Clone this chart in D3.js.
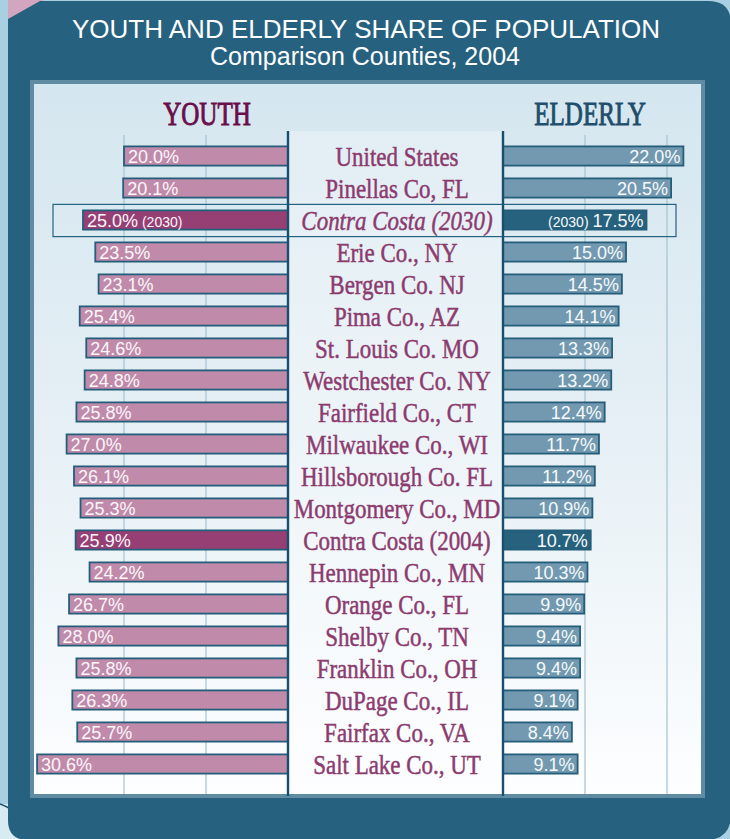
<!DOCTYPE html>
<html>
<head>
<meta charset="utf-8">
<script src="https://cdn.jsdelivr.net/npm/d3@7"></script>
<style>
  body { margin: 0; background: #a9d0e2; }
  svg { display: block; }
</style>
</head>
<body>
<div id="chart"></div>
<script>
const counties = [
    "United States", "Pinellas Co, FL", "Contra Costa (2030)", "Erie Co., NY",
    "Bergen Co. NJ", "Pima Co., AZ", "St. Louis Co. MO", "Westchester Co. NY",
    "Fairfield Co., CT", "Milwaukee Co., WI", "Hillsborough Co. FL", "Montgomery Co., MD",
    "Contra Costa (2004)", "Hennepin Co., MN", "Orange Co., FL", "Shelby Co., TN",
    "Franklin Co., OH", "DuPage Co., IL", "Fairfax Co., VA", "Salt Lake Co., UT"
];
const youth = [20.0, 20.1, 25.0, 23.5, 23.1, 25.4, 24.6, 24.8, 25.8, 27.0,
               26.1, 25.3, 25.9, 24.2, 26.7, 28.0, 25.8, 26.3, 25.7, 30.6];
const elderly = [22.0, 20.5, 17.5, 15.0, 14.5, 14.1, 13.3, 13.2, 12.4, 11.7,
                 11.2, 10.9, 10.7, 10.3, 9.9, 9.4, 9.4, 9.1, 8.4, 9.1];
const highlighted = ["Contra Costa (2030)", "Contra Costa (2004)"];
const projected = "Contra Costa (2030)";
const gridTicks = [10, 20];

const width = 730, height = 839;
const youthAxisX = 288, elderlyAxisX = 503;

const data = counties.map((c, i) => ({ county: c, youth: youth[i], elderly: elderly[i] }));

const svg = d3.select("#chart")
    .append("svg")
    .attr("width", width)
    .attr("height", height);

const defs = svg.append("defs");
const grad = defs.append("linearGradient")
    .attr("id", "panelGrad")
    .attr("x1", 0).attr("y1", 0).attr("x2", 0).attr("y2", 1);
grad.append("stop").attr("offset", "0%").attr("stop-color", "#d4e6ef");
grad.append("stop").attr("offset", "55%").attr("stop-color", "#e8f1f6");
grad.append("stop").attr("offset", "100%").attr("stop-color", "#fdfeff");

// Background decorations
svg.append("rect").attr("x", 0).attr("y", 804).attr("width", 20).attr("height", 35).attr("fill", "#d9ebf2");
svg.append("path")
    .attr("d", "M0,804 Q6,806 12,810")
    .attr("fill", "none").attr("stroke", "#1d4f6b").attr("stroke-width", 1.5);
svg.append("path").attr("d", "M8,0 L44,0 L8,20 Z").attr("fill", "#d3a6c0");

// Dark frame
svg.append("path")
    .attr("d", "M8,19 L40,1 L708,1 Q731,1 731,24 L731,814 Q731,840 706,840 L28,840 Q8,840 8,820 Z")
    .attr("fill", "#26627f");

// Title
svg.append("text")
    .attr("x", 366).attr("y", 38)
    .attr("text-anchor", "middle")
    .style("fill", "#fff")
    .style("font-family", "Liberation Sans, Arial, sans-serif")
    .style("font-size", "26px")
    .text("YOUTH AND ELDERLY SHARE OF POPULATION");
svg.append("text")
    .attr("x", 365).attr("y", 65)
    .attr("text-anchor", "middle")
    .style("fill", "#fff")
    .style("font-family", "Liberation Sans, Arial, sans-serif")
    .style("font-size", "25px")
    .text("Comparison Counties, 2004");

// Inner panel
svg.append("rect")
    .attr("x", 30).attr("y", 80).attr("width", 675).attr("height", 718)
    .attr("fill", "#5f8ca3");
svg.append("rect")
    .attr("x", 34).attr("y", 84).attr("width", 667).attr("height", 710)
    .attr("fill", "url(#panelGrad)");

// Scales
const x = d3.scaleLinear().domain([0, 10]).range([0, 82]);
const y = d3.scaleBand()
    .domain(counties)
    .range([140, 780])
    .paddingInner(0.4)
    .paddingOuter(0.2);

// Center column
svg.append("rect")
    .attr("x", youthAxisX).attr("y", 131)
    .attr("width", elderlyAxisX - youthAxisX).attr("height", 663)
    .attr("fill", "#fff").attr("opacity", 0.3);

// Gridlines
const grid = svg.append("g");
grid.selectAll(".grid-y")
    .data(gridTicks)
    .enter()
    .append("line")
    .attr("x1", d => youthAxisX - x(d)).attr("x2", d => youthAxisX - x(d))
    .attr("y1", 135).attr("y2", 794)
    .attr("stroke", "#a3c3d2").attr("stroke-width", 1.2);
grid.selectAll(".grid-e")
    .data(gridTicks)
    .enter()
    .append("line")
    .attr("x1", d => elderlyAxisX + x(d)).attr("x2", d => elderlyAxisX + x(d))
    .attr("y1", 135).attr("y2", 794)
    .attr("stroke", "#a3c3d2").attr("stroke-width", 1.2);

// Headers
svg.append("text")
    .attr("transform", "translate(207,125) scale(0.76,1)")
    .attr("text-anchor", "middle")
    .style("fill", "#6b0d4a")
    .style("stroke", "#6b0d4a")
    .style("stroke-width", 0.9)
    .style("font-family", "Liberation Serif, serif")
    .style("font-size", "33px")
    .text("YOUTH");
svg.append("text")
    .attr("transform", "translate(590,125) scale(0.76,1)")
    .attr("text-anchor", "middle")
    .style("fill", "#1f4e6c")
    .style("stroke", "#1f4e6c")
    .style("stroke-width", 0.9)
    .style("font-family", "Liberation Serif, serif")
    .style("font-size", "33px")
    .text("ELDERLY");

// Projection box
const proj = y(projected);
svg.append("rect")
    .attr("x", 53).attr("y", proj - 6)
    .attr("width", 623).attr("height", y.bandwidth() + 13)
    .attr("fill", "none")
    .attr("stroke", "#26627f").attr("stroke-width", 1.2);

const isHi = d => highlighted.includes(d.county);

// Youth bars
svg.selectAll(".youth-bar")
    .data(data)
    .enter()
    .append("rect")
    .attr("class", "youth-bar")
    .attr("x", d => youthAxisX - x(d.youth))
    .attr("y", d => y(d.county))
    .attr("width", d => x(d.youth))
    .attr("height", y.bandwidth())
    .attr("fill", d => isHi(d) ? "#963f74" : "#c08baa")
    .attr("stroke", "#245e7a")
    .attr("stroke-width", 1.8);

// Elderly bars
svg.selectAll(".elderly-bar")
    .data(data)
    .enter()
    .append("rect")
    .attr("class", "elderly-bar")
    .attr("x", elderlyAxisX)
    .attr("y", d => y(d.county))
    .attr("width", d => x(d.elderly))
    .attr("height", y.bandwidth())
    .attr("fill", d => isHi(d) ? "#26617e" : "#7299af")
    .attr("stroke", "#245e7a")
    .attr("stroke-width", 1.8);

// Youth labels
const yl = svg.selectAll(".youth-label")
    .data(data)
    .enter()
    .append("text")
    .attr("class", "youth-label")
    .attr("x", d => youthAxisX - x(d.youth) + 4)
    .attr("y", d => y(d.county) + y.bandwidth() / 2 + 6.5)
    .style("fill", "#fbf6fa")
    .style("font-family", "Liberation Sans, Arial, sans-serif")
    .style("font-size", "18px");
yl.append("tspan").text(d => d.youth.toFixed(1) + "%");
yl.filter(d => d.county === projected)
    .append("tspan").style("font-size", "14px").text(" (2030)");

// Elderly labels
const el = svg.selectAll(".elderly-label")
    .data(data)
    .enter()
    .append("text")
    .attr("class", "elderly-label")
    .attr("x", d => elderlyAxisX + x(d.elderly) - 3)
    .attr("y", d => y(d.county) + y.bandwidth() / 2 + 6.5)
    .attr("text-anchor", "end")
    .style("fill", "#f6fafc")
    .style("font-family", "Liberation Sans, Arial, sans-serif")
    .style("font-size", "18px");
el.filter(d => d.county === projected)
    .append("tspan").style("font-size", "14px").text("(2030) ");
el.append("tspan").text(d => d.elderly.toFixed(1) + "%");

// County names
svg.selectAll(".county")
    .data(data)
    .enter()
    .append("text")
    .attr("class", "county")
    .attr("transform", d => `translate(397,${y(d.county) + y.bandwidth() / 2 + 10}) scale(0.82,1)`)
    .attr("text-anchor", "middle")
    .style("fill", "#8c3b6f")
    .style("stroke", "#8c3b6f")
    .style("stroke-width", 0.5)
    .style("font-family", "Liberation Serif, serif")
    .style("font-size", "28px")
    .style("font-style", d => d.county === projected ? "italic" : "normal")
    .text(d => d.county);

// Axis lines
[youthAxisX, elderlyAxisX].forEach(ax => {
    svg.append("line")
        .attr("x1", ax).attr("x2", ax)
        .attr("y1", 131).attr("y2", 796)
        .attr("stroke", "#174f6e").attr("stroke-width", 2.4);
});
</script>
</body>
</html>
